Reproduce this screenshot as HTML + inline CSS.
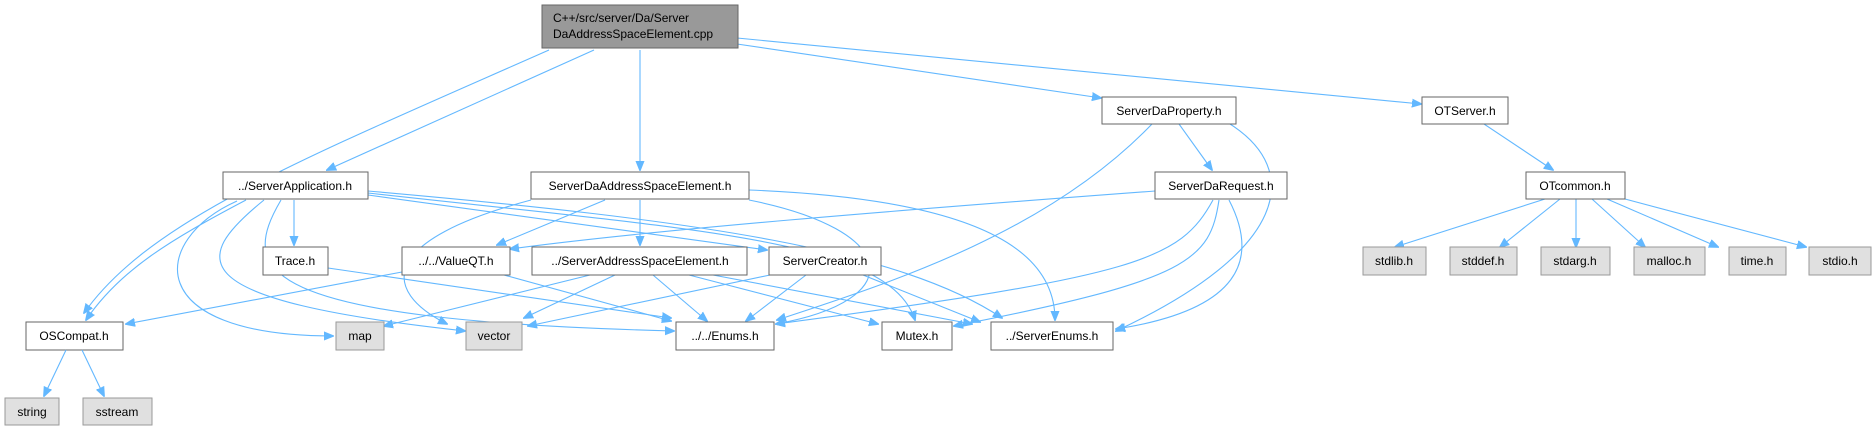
<!DOCTYPE html>
<html><head><meta charset="utf-8"><style>
html,body{margin:0;padding:0;background:#fff;}
svg{display:block;}
text{font-family:"Liberation Sans",Arial,sans-serif;font-size:12px;fill:#000;}
.e{fill:none;stroke:#63b8ff;stroke-width:1.1;marker-end:url(#a);}
.n{fill:#fff;stroke:#666;stroke-width:1;}
.s{fill:#e0e0e0;stroke:#999;stroke-width:1;}
</style></head><body>
<svg width="1876" height="427" viewBox="0 0 1876 427" xmlns="http://www.w3.org/2000/svg">
<defs><marker id="a" viewBox="0 0 10 10" refX="9" refY="5" markerWidth="10" markerHeight="10" markerUnits="userSpaceOnUse" orient="auto"><path d="M0,1 L10,5 L0,9 z" fill="#63b8ff" stroke="#63b8ff"/></marker></defs>

<!-- edges from root -->
<path class="e" d="M549,50 C300,160 150,220 84,313"/>
<path class="e" d="M594,50 L327,170"/>
<path class="e" d="M640,50 L640,170"/>
<path class="e" d="M737,44 L1101,98"/>
<path class="e" d="M737,38 L1421,104"/>

<!-- ServerApplication -->
<path class="e" d="M294,200 L294,245"/>
<path class="e" d="M246,200 C170,240 120,270 86,320"/>
<path class="e" d="M237,201 C150,240 140,336 333,336"/>
<path class="e" d="M264,200 C190,260 180,300 465,331"/>
<path class="e" d="M281,200 C240,270 250,320 674,331"/>
<path class="e" d="M368,195 L767,250"/>
<path class="e" d="M368,193 C700,230 890,240 915,320"/>
<path class="e" d="M368,191 C700,220 900,250 1002,318"/>

<!-- SDASE.h -->
<path class="e" d="M531,200 C380,240 380,290 447,324"/>
<path class="e" d="M605,200 L497,245"/>
<path class="e" d="M640,200 L640,245"/>
<path class="e" d="M749,200 C900,230 910,300 776,324"/>
<path class="e" d="M749,190 C1000,200 1055,260 1055,320"/>

<!-- ValueQT -->
<path class="e" d="M402,272 L126,324"/>
<path class="e" d="M504,275 L671,321"/>
<!-- Trace -->
<path class="e" d="M328,268 L671,318"/>
<!-- ServerAddressSpaceElement -->
<path class="e" d="M590,275 L384,326"/>
<path class="e" d="M615,275 L524,318"/>
<path class="e" d="M653,275 L707,321"/>
<path class="e" d="M689,275 L878,324"/>
<path class="e" d="M713,275 L972,324"/>
<!-- ServerCreator -->
<path class="e" d="M770,275 L528,326"/>
<path class="e" d="M806,275 L746,321"/>
<path class="e" d="M863,275 L980,322"/>
<!-- ServerDaProperty -->
<path class="e" d="M1152,124 C1050,230 900,280 777,320"/>
<path class="e" d="M1179,124 L1212,170"/>
<path class="e" d="M1230,124 C1302,170 1290,250 1116,331"/>
<!-- ServerDaRequest -->
<path class="e" d="M1155,191 C900,210 650,230 510,249"/>
<path class="e" d="M1213,200 C1180,260 1140,276 776,324"/>
<path class="e" d="M1219,200 C1210,260 1190,280 954,326"/>
<path class="e" d="M1229,200 C1260,260 1240,310 1116,329"/>
<!-- OT -->
<path class="e" d="M1484,124 L1553,170"/>
<path class="e" d="M1545,199 L1395,247"/>
<path class="e" d="M1560,199 L1500,247"/>
<path class="e" d="M1576,199 L1576,247"/>
<path class="e" d="M1592,199 L1645,247"/>
<path class="e" d="M1607,199 L1718,247"/>
<path class="e" d="M1625,199 L1806,247"/>

<!-- nodes -->
<rect x="542" y="5" width="196" height="43" fill="#999" stroke="#666"/>
<text x="553" y="22">C++/src/server/Da/Server</text>
<text x="553" y="38">DaAddressSpaceElement.cpp</text>

<rect class="n" x="1102" y="97" width="134" height="27"/><text x="1169" y="115" text-anchor="middle">ServerDaProperty.h</text>
<rect class="n" x="1422" y="97" width="86" height="27"/><text x="1465" y="115" text-anchor="middle">OTServer.h</text>

<rect class="n" x="223" y="172" width="145" height="27"/><text x="295" y="190" text-anchor="middle">../ServerApplication.h</text>
<rect class="n" x="531" y="172" width="218" height="27"/><text x="640" y="190" text-anchor="middle">ServerDaAddressSpaceElement.h</text>
<rect class="n" x="1155" y="172" width="132" height="27"/><text x="1221" y="190" text-anchor="middle">ServerDaRequest.h</text>
<rect class="n" x="1526" y="172" width="99" height="27"/><text x="1575" y="190" text-anchor="middle">OTcommon.h</text>

<rect class="n" x="263" y="247" width="65" height="28"/><text x="295" y="265" text-anchor="middle">Trace.h</text>
<rect class="n" x="402" y="247" width="108" height="28"/><text x="456" y="265" text-anchor="middle">../../ValueQT.h</text>
<rect class="n" x="532" y="247" width="215" height="28"/><text x="640" y="265" text-anchor="middle">../ServerAddressSpaceElement.h</text>
<rect class="n" x="769" y="247" width="112" height="28"/><text x="825" y="265" text-anchor="middle">ServerCreator.h</text>
<rect class="s" x="1363" y="247" width="63" height="28"/><text x="1394" y="265" text-anchor="middle">stdlib.h</text>
<rect class="s" x="1450" y="247" width="67" height="28"/><text x="1483" y="265" text-anchor="middle">stddef.h</text>
<rect class="s" x="1541" y="247" width="69" height="28"/><text x="1575" y="265" text-anchor="middle">stdarg.h</text>
<rect class="s" x="1634" y="247" width="71" height="28"/><text x="1669" y="265" text-anchor="middle">malloc.h</text>
<rect class="s" x="1729" y="247" width="57" height="28"/><text x="1757" y="265" text-anchor="middle">time.h</text>
<rect class="s" x="1809" y="247" width="62" height="28"/><text x="1840" y="265" text-anchor="middle">stdio.h</text>

<rect class="n" x="26" y="322" width="97" height="28"/><text x="74" y="340" text-anchor="middle">OSCompat.h</text>
<rect class="s" x="336" y="322" width="48" height="28"/><text x="360" y="340" text-anchor="middle">map</text>
<rect class="s" x="466" y="322" width="56" height="28"/><text x="494" y="340" text-anchor="middle">vector</text>
<rect class="n" x="676" y="322" width="98" height="28"/><text x="725" y="340" text-anchor="middle">../../Enums.h</text>
<rect class="n" x="882" y="322" width="70" height="28"/><text x="917" y="340" text-anchor="middle">Mutex.h</text>
<rect class="n" x="991" y="322" width="122" height="28"/><text x="1052" y="340" text-anchor="middle">../ServerEnums.h</text>

<path class="e" d="M66,350 L44,396"/>
<path class="e" d="M82,350 L104,396"/>
<rect class="s" x="5" y="398" width="54" height="27"/><text x="32" y="416" text-anchor="middle">string</text>
<rect class="s" x="83" y="398" width="69" height="27"/><text x="117" y="416" text-anchor="middle">sstream</text>
</svg>
</body></html>
